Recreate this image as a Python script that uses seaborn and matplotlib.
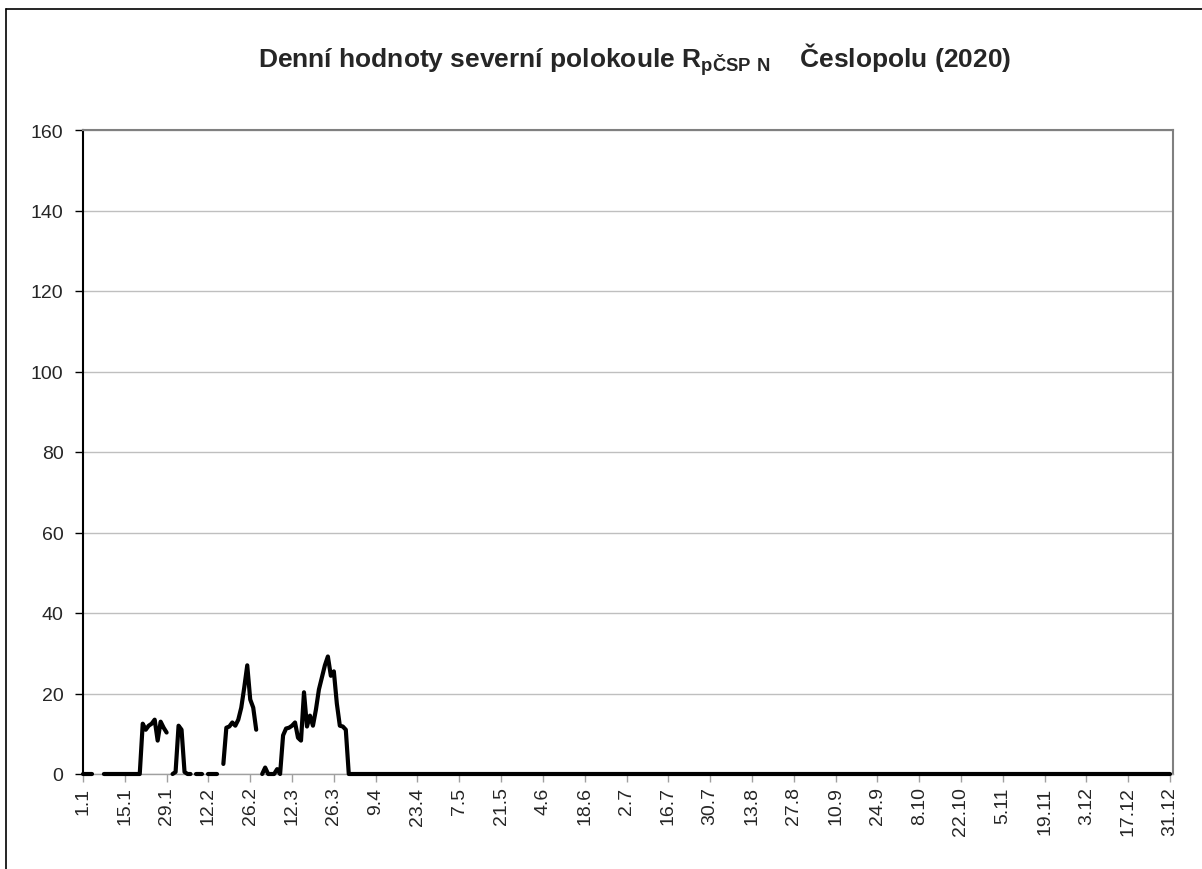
import numpy as np
import pandas as pd
import matplotlib
matplotlib.use("Agg")
import matplotlib.pyplot as plt
import seaborn as sns
from matplotlib.lines import Line2D

nan = np.nan

# Daily values (index 0 = 1.1), NaN = missing day
early_values = [
    0, 0, 0, 0,                 # 1.1 - 4.1
    nan, nan, nan,
    0, 0, 0, 0, 0, 0, 0, 0, 0, 0, 0, 0, 0,
    12.5, 11, 12, 12.5, 13.5, 8.3, 13, 11.5, 10.3,
    nan,
    0, 0.5, 12, 11, 0.5, 0, 0,
    nan,
    0, 0, 0,
    nan,
    0, 0, 0, 0,
    nan,
    2.5, 11.5, 11.8, 12.8, 12, 13.5, 16.5, 21.5, 27, 18.5, 16.5, 11,
    nan,
    0, 1.6, 0, 0, 0, 1.2, 0,
    9.6, 11.3, 11.5, 12, 12.8, 9, 8.3, 20.3, 11.8, 14.5, 12, 16, 21, 24, 27,
    29.2, 24.4, 25.5, 17.5, 12, 11.8, 11,
]
rest_values = [0.0] * (365 - len(early_values))
values = early_values + rest_values

tick_labels = ["1.1", "15.1", "29.1", "12.2", "26.2", "12.3", "26.3", "9.4",
               "23.4", "7.5", "21.5", "4.6", "18.6", "2.7", "16.7", "30.7",
               "13.8", "27.8", "10.9", "24.9", "8.10", "22.10", "5.11",
               "19.11", "3.12", "17.12", "31.12"]

title_text = (r"Denní hodnoty severní polokoule $\mathbf{R}_{\mathbf{pČSP\ N}}$"
              "    Česlopolu (2020)")

df = pd.DataFrame({"day": np.arange(len(values)), "value": values})
df["seg"] = df["value"].isna().cumsum()
df = df.dropna()

sns.set_style("white")
plt.rcParams["font.family"] = ["Liberation Sans", "DejaVu Sans"]
plt.rcParams["mathtext.fontset"] = "custom"
plt.rcParams["mathtext.rm"] = "Liberation Sans:bold"
plt.rcParams["mathtext.bf"] = "Liberation Sans:bold"

fig = plt.figure(figsize=(12.02, 8.70), dpi=100)
ax = fig.add_axes([83 / 1202, 1 - 775 / 870, (1173 - 83) / 1202, (775 - 131) / 870])

ax.set_ylim(0, 160)
ax.set_xlim(0, 365)
ax.set_yticks(np.arange(0, 161, 20))
ax.yaxis.grid(True, color="#bfbfbf", linewidth=1.0)
ax.set_axisbelow(True)

sns.lineplot(data=df, x="day", y="value", units="seg", estimator=None,
             color="black", linewidth=3.0, ax=ax, legend=False,
             solid_capstyle="round", solid_joinstyle="round", zorder=3,
             clip_on=False)

ax.set_xticks(np.arange(0, 365, 14))
ax.set_xticklabels(tick_labels, rotation=90)
ax.set_xlabel("")
ax.set_ylabel("")

ax.tick_params(axis="y", which="major", direction="out", length=6, width=1,
               color="black", labelsize=14, pad=8, left=True)
ax.tick_params(axis="x", which="major", direction="out", length=6, width=1,
               color="#a0a0a0", labelsize=14, pad=3, bottom=True)

for side in ["top", "right"]:
    ax.spines[side].set_visible(True)
    ax.spines[side].set_color("#808080")
    ax.spines[side].set_linewidth(1.5)
ax.spines["left"].set_color("black")
ax.spines["left"].set_linewidth(1.5)
ax.spines["bottom"].set_color("#a0a0a0")
ax.spines["bottom"].set_linewidth(1.0)

fig.text(0.528, 1 - 60 / 870, title_text, ha="center", va="center",
         fontsize=19, fontweight="bold")

# outer chart frame (left and top edges visible)
fig.add_artist(Line2D([6 / 1202, 6 / 1202], [0, 1 - 10 / 870], color="black",
                      linewidth=1.2, transform=fig.transFigure))
fig.add_artist(Line2D([6 / 1202, 1], [1 - 10 / 870, 1 - 10 / 870], color="black",
                      linewidth=1.2, transform=fig.transFigure))

fig.savefig("out.png", dpi=100, facecolor="white")
